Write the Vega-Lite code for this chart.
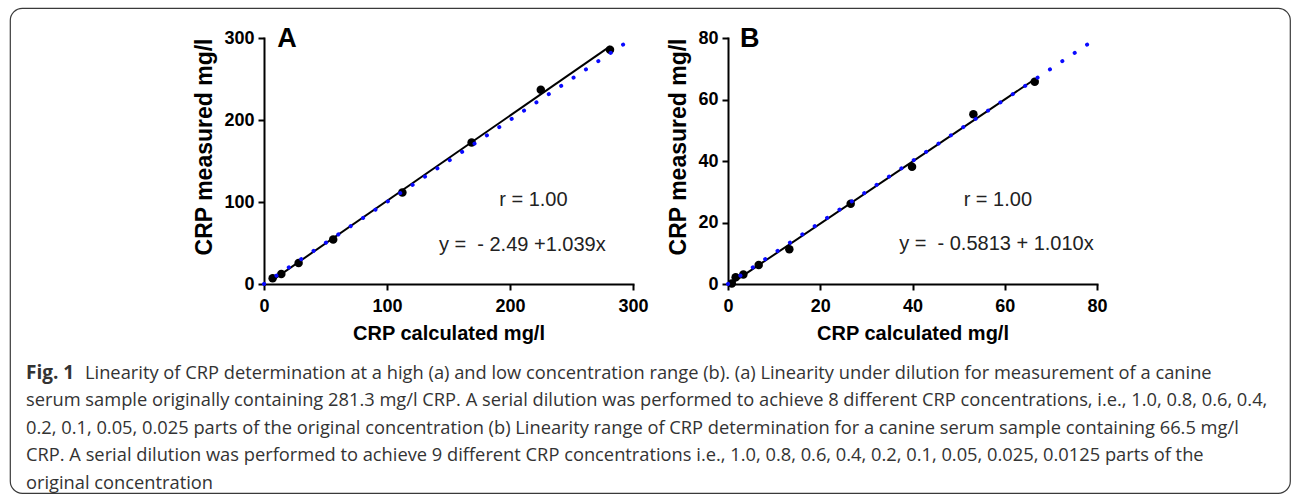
{
  "$schema": "https://vega.github.io/schema/vega-lite/v6.json",
  "width": 1280,
  "height": 485,
  "autosize": {"type": "none"},
  "padding": {"left": 10, "top": 8, "right": 2, "bottom": 1},
  "background": "white",
  "config": {
    "view": {"stroke": "#3a3a3a", "strokeWidth": 1.2, "cornerRadius": 12},
    "font": "Liberation Sans",
    "axis": {
      "grid": false,
      "domainColor": "black",
      "domainWidth": 2,
      "domainCap": "square",
      "tickColor": "black",
      "tickWidth": 2,
      "tickSize": 6,
      "labelFont": "Liberation Sans",
      "labelFontSize": 18,
      "labelFontWeight": "bold",
      "labelColor": "black",
      "labelFlush": false,
      "labelOverlap": false,
      "titleFont": "Liberation Sans",
      "titleFontWeight": "bold",
      "titleColor": "black"
    },
    "axisX": {"titleFontSize": 20, "labelPadding": 7, "titlePadding": 8},
    "axisY": {"titleFontSize": 23, "labelPadding": 4, "titlePadding": 7, "titleAnchor": "end"}
  },
  "datasets": {
    "a_pts": [
      {"calc": 7.03, "meas": 6.9},
      {"calc": 14.07, "meas": 12.2},
      {"calc": 28.13, "meas": 25.6},
      {"calc": 56.26, "meas": 54.4},
      {"calc": 112.52, "meas": 111.6},
      {"calc": 168.78, "meas": 172.5},
      {"calc": 225.04, "meas": 237.0},
      {"calc": 281.3, "meas": 285.8}
    ],
    "a_fit": [{"calc": 7.03, "meas": 4.81}, {"calc": 281.3, "meas": 289.78}],
    "a_id": [{"calc": 0, "meas": 0}, {"calc": 300, "meas": 300}],
    "b_pts": [
      {"calc": 0.83, "meas": 0.2},
      {"calc": 1.66, "meas": 2.2},
      {"calc": 3.33, "meas": 3.1},
      {"calc": 6.65, "meas": 6.2},
      {"calc": 13.3, "meas": 11.3},
      {"calc": 26.6, "meas": 26.1},
      {"calc": 39.9, "meas": 38.1},
      {"calc": 53.2, "meas": 55.2},
      {"calc": 66.5, "meas": 65.8}
    ],
    "b_fit": [{"calc": 0.83, "meas": 0.26}, {"calc": 66.5, "meas": 66.58}],
    "b_id": [{"calc": 0, "meas": 0}, {"calc": 80, "meas": 80}],
    "cap_bold": [{"line": 1, "text": "Fig. 1"}],
    "cap_first": [{"line": 1, "text": "Linearity of CRP determination at a high (a) and low concentration range (b). (a) Linearity under dilution for measurement of a canine"}],
    "cap_rest": [
      {"line": 2, "text": "serum sample originally containing 281.3 mg/l CRP. A serial dilution was performed to achieve 8 different CRP concentrations, i.e., 1.0, 0.8, 0.6, 0.4,"},
      {"line": 3, "text": "0.2, 0.1, 0.05, 0.025 parts of the original concentration (b) Linearity range of CRP determination for a canine serum sample containing 66.5 mg/l"},
      {"line": 4, "text": "CRP. A serial dilution was performed to achieve 9 different CRP concentrations i.e., 1.0, 0.8, 0.6, 0.4, 0.2, 0.1, 0.05, 0.025, 0.0125 parts of the"},
      {"line": 5, "text": "original concentration"}
    ]
  },
  "layer": [
    {
      "data": {"name": "a_fit"},
      "mark": {"type": "line", "color": "black", "strokeWidth": 2},
      "encoding": {
        "x": {"field": "calc", "type": "quantitative",
          "scale": {"domain": [0, 300], "range": [254, 623], "nice": false, "zero": false},
          "axis": {"values": [0, 100, 200, 300], "orient": "bottom", "offset": -209, "title": "CRP calculated mg/l"}},
        "y": {"field": "meas", "type": "quantitative",
          "scale": {"domain": [0, 300], "range": [276, 30], "nice": false, "zero": false},
          "axis": {"values": [0, 100, 200, 300], "orient": "left", "offset": -254, "title": "CRP measured mg/l"}}
      }
    },
    {
      "data": {"name": "a_pts"},
      "mark": {"type": "point", "shape": "circle", "filled": true, "color": "black", "opacity": 1, "size": 72},
      "encoding": {
        "x": {"field": "calc", "type": "quantitative", "scale": {"domain": [0, 300], "range": [254, 623], "nice": false, "zero": false}, "axis": null},
        "y": {"field": "meas", "type": "quantitative", "scale": {"domain": [0, 300], "range": [276, 30], "nice": false, "zero": false}, "axis": null}
      }
    },
    {
      "data": {"name": "a_id"},
      "mark": {"type": "line", "color": "#0a0aff", "strokeWidth": 4, "strokeDash": [0.1, 14.78], "strokeCap": "round"},
      "encoding": {
        "x": {"field": "calc", "type": "quantitative", "scale": {"domain": [0, 300], "range": [254, 623], "nice": false, "zero": false}, "axis": null},
        "y": {"field": "meas", "type": "quantitative", "scale": {"domain": [0, 300], "range": [276, 30], "nice": false, "zero": false}, "axis": null}
      }
    },
    {
      "data": {"values": [{}]},
      "mark": {"type": "text", "text": "A", "fontSize": 27, "fontWeight": "bold", "color": "black", "align": "center", "baseline": "middle"},
      "encoding": {
        "x": {"datum": 18.7, "type": "quantitative", "scale": {"domain": [0, 300], "range": [254, 623], "nice": false, "zero": false}, "axis": null},
        "y": {"datum": 298.4, "type": "quantitative", "scale": {"domain": [0, 300], "range": [276, 30], "nice": false, "zero": false}, "axis": null}
      }
    },
    {
      "data": {"values": [{}]},
      "mark": {"type": "text", "text": "r = 1.00", "fontSize": 20, "color": "#222", "align": "center", "baseline": "middle"},
      "encoding": {
        "x": {"datum": 219, "type": "quantitative", "scale": {"domain": [0, 300], "range": [254, 623], "nice": false, "zero": false}, "axis": null},
        "y": {"datum": 102, "type": "quantitative", "scale": {"domain": [0, 300], "range": [276, 30], "nice": false, "zero": false}, "axis": null}
      }
    },
    {
      "data": {"values": [{}]},
      "mark": {"type": "text", "text": "y =\u00a0 - 2.49 +1.039x", "fontSize": 20, "color": "#222", "align": "center", "baseline": "middle"},
      "encoding": {
        "x": {"datum": 210, "type": "quantitative", "scale": {"domain": [0, 300], "range": [254, 623], "nice": false, "zero": false}, "axis": null},
        "y": {"datum": 48, "type": "quantitative", "scale": {"domain": [0, 300], "range": [276, 30], "nice": false, "zero": false}, "axis": null}
      }
    },
    {
      "data": {"name": "b_fit"},
      "mark": {"type": "line", "color": "black", "strokeWidth": 2},
      "encoding": {
        "x": {"field": "calc", "type": "quantitative",
          "scale": {"domain": [0, 80], "range": [718, 1087], "nice": false, "zero": false},
          "axis": {"values": [0, 20, 40, 60, 80], "orient": "bottom", "offset": -209, "title": "CRP calculated mg/l"}},
        "y": {"field": "meas", "type": "quantitative",
          "scale": {"domain": [0, 80], "range": [276, 30], "nice": false, "zero": false},
          "axis": {"values": [0, 20, 40, 60, 80], "orient": "left", "offset": -718, "title": "CRP measured mg/l"}}
      }
    },
    {
      "data": {"name": "b_pts"},
      "mark": {"type": "point", "shape": "circle", "filled": true, "color": "black", "opacity": 1, "size": 72},
      "encoding": {
        "x": {"field": "calc", "type": "quantitative", "scale": {"domain": [0, 80], "range": [718, 1087], "nice": false, "zero": false}, "axis": null},
        "y": {"field": "meas", "type": "quantitative", "scale": {"domain": [0, 80], "range": [276, 30], "nice": false, "zero": false}, "axis": null}
      }
    },
    {
      "data": {"name": "b_id"},
      "mark": {"type": "line", "color": "#0a0aff", "strokeWidth": 4, "strokeDash": [0.1, 14.78], "strokeCap": "round"},
      "encoding": {
        "x": {"field": "calc", "type": "quantitative", "scale": {"domain": [0, 80], "range": [718, 1087], "nice": false, "zero": false}, "axis": null},
        "y": {"field": "meas", "type": "quantitative", "scale": {"domain": [0, 80], "range": [276, 30], "nice": false, "zero": false}, "axis": null}
      }
    },
    {
      "data": {"values": [{}]},
      "mark": {"type": "text", "text": "B", "fontSize": 27, "fontWeight": "bold", "color": "black", "align": "center", "baseline": "middle"},
      "encoding": {
        "x": {"datum": 4.7, "type": "quantitative", "scale": {"domain": [0, 80], "range": [718, 1087], "nice": false, "zero": false}, "axis": null},
        "y": {"datum": 79.6, "type": "quantitative", "scale": {"domain": [0, 80], "range": [276, 30], "nice": false, "zero": false}, "axis": null}
      }
    },
    {
      "data": {"values": [{}]},
      "mark": {"type": "text", "text": "r = 1.00", "fontSize": 20, "color": "#222", "align": "center", "baseline": "middle"},
      "encoding": {
        "x": {"datum": 58.5, "type": "quantitative", "scale": {"domain": [0, 80], "range": [718, 1087], "nice": false, "zero": false}, "axis": null},
        "y": {"datum": 27.3, "type": "quantitative", "scale": {"domain": [0, 80], "range": [276, 30], "nice": false, "zero": false}, "axis": null}
      }
    },
    {
      "data": {"values": [{}]},
      "mark": {"type": "text", "text": "y =\u00a0 - 0.5813 + 1.010x", "fontSize": 20, "color": "#222", "align": "center", "baseline": "middle"},
      "encoding": {
        "x": {"datum": 58.2, "type": "quantitative", "scale": {"domain": [0, 80], "range": [718, 1087], "nice": false, "zero": false}, "axis": null},
        "y": {"datum": 12.9, "type": "quantitative", "scale": {"domain": [0, 80], "range": [276, 30], "nice": false, "zero": false}, "axis": null}
      }
    },
    {
      "data": {"name": "cap_bold"},
      "mark": {"type": "text", "font": "Open Sans", "fontSize": 19, "fontWeight": "bold", "color": "#333", "align": "left", "baseline": "alphabetic"},
      "encoding": {
        "x": {"datum": 0, "type": "quantitative", "scale": {"domain": [0, 1], "range": [16, 1270]}, "axis": null},
        "y": {"field": "line", "type": "quantitative", "scale": {"domain": [1, 5], "range": [371, 480.5], "zero": false, "nice": false}, "axis": null},
        "text": {"field": "text"}
      }
    },
    {
      "data": {"name": "cap_first"},
      "mark": {"type": "text", "font": "Open Sans", "fontSize": 18.3, "color": "#333", "align": "left", "baseline": "alphabetic", "dx": 59},
      "encoding": {
        "x": {"datum": 0, "type": "quantitative", "scale": {"domain": [0, 1], "range": [16, 1270]}, "axis": null},
        "y": {"field": "line", "type": "quantitative", "scale": {"domain": [1, 5], "range": [371, 480.5], "zero": false, "nice": false}, "axis": null},
        "text": {"field": "text"}
      }
    },
    {
      "data": {"name": "cap_rest"},
      "mark": {"type": "text", "font": "Open Sans", "fontSize": 18.3, "color": "#333", "align": "left", "baseline": "alphabetic"},
      "encoding": {
        "x": {"datum": 0, "type": "quantitative", "scale": {"domain": [0, 1], "range": [16, 1270]}, "axis": null},
        "y": {"field": "line", "type": "quantitative", "scale": {"domain": [1, 5], "range": [371, 480.5], "zero": false, "nice": false}, "axis": null},
        "text": {"field": "text"}
      }
    }
  ],
  "resolve": {
    "scale": {"x": "independent", "y": "independent"},
    "axis": {"x": "independent", "y": "independent"}
  }
}
